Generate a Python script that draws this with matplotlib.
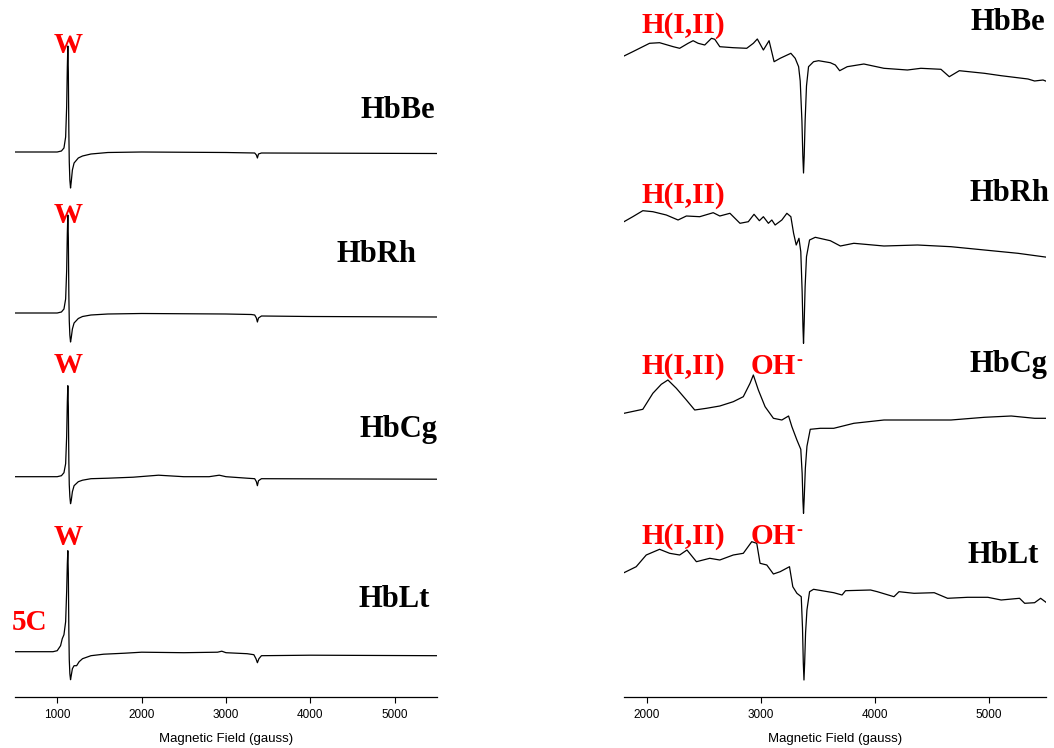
import matplotlib
matplotlib.use("Agg")
import matplotlib.pyplot as plt

# ---------------- data (field in gauss, intensity arbitrary units) ----------------
left_names = ["HbBe", "HbRh", "HbCg", "HbLt"]
right_names = ["HbBe", "HbRh", "HbCg", "HbLt"]

L_be_x = [500, 1000, 1050, 1080, 1100, 1112, 1120, 1126, 1132, 1138, 1143, 1150, 1158, 1166, 1180, 1200, 1250, 1300, 1400, 1600, 2000, 3000, 3340, 3360, 3372, 3385, 3420, 5500]
L_be_y = [0, 0, 1, 4, 15, 45, 85, 106, 80, 20, -10, -28, -36, -30, -18, -11, -6, -4, -2, -0.5, 0, -0.5, -1, -3, -6, -2, -1, -1.5]

L_rh_x = [500, 1000, 1050, 1080, 1100, 1112, 1120, 1126, 1132, 1138, 1143, 1150, 1158, 1166, 1180, 1200, 1250, 1300, 1400, 1600, 2000, 3000, 3300, 3340, 3360, 3372, 3385, 3420, 4000, 5500]
L_rh_y = [0, 0, 1, 4, 14, 42, 80, 98, 75, 18, -8, -22, -29, -25, -16, -10, -5.5, -3.5, -2, -1, -0.5, -1, -1.5, -2, -5, -9, -5, -3, -3.5, -4]

L_cg_x = [500, 1000, 1050, 1080, 1100, 1112, 1120, 1126, 1132, 1138, 1143, 1150, 1158, 1166, 1180, 1200, 1250, 1300, 1400, 1600, 1900, 2200, 2500, 2800, 2920, 3000, 3250, 3340, 3360, 3372, 3385, 3420, 5500]
L_cg_y = [0, 0, 1, 4, 13, 40, 75, 91, 70, 15, -8, -20, -27, -24, -15, -9, -5, -3.5, -2, -1.5, -0.5, 1.5, 0, 0, 1.5, 0, -1.5, -2, -5, -9, -4, -2, -2.5]

L_lt_x = [500, 950, 1000, 1040, 1060, 1080, 1100, 1112, 1120, 1126, 1132, 1138, 1143, 1150, 1158, 1166, 1180, 1200, 1230, 1260, 1300, 1400, 1550, 1800, 2000, 2500, 2900, 2950, 3000, 3250, 3330, 3355, 3372, 3390, 3420, 4000, 5500]
L_lt_y = [0, 0, 1, 6, 13, 17, 30, 60, 88, 101, 78, 20, -8, -22, -28, -24, -17, -14, -14, -10, -7, -4, -2.5, -1.5, -0.5, -1, -0.5, 0.5, -1, -2, -3, -7, -11, -7, -4, -3.5, -4]

R_be_x = [1800, 1877, 2024, 2112, 2232, 2288, 2362, 2406, 2450, 2508, 2567, 2596, 2640, 2758, 2876, 2934, 2969, 3022, 3072, 3116, 3169, 3263, 3301, 3331, 3345, 3360, 3368, 3374, 3380, 3388, 3400, 3418, 3462, 3506, 3609, 3653, 3691, 3757, 3903, 4079, 4285, 4403, 4579, 4652, 4740, 4960, 5107, 5342, 5400, 5474, 5512]
R_be_y = [0, 4.3, 12.7, 13.3, 9.3, 7.7, 12.7, 15.3, 12.7, 11, 17.7, 16.7, 9.3, 8.3, 7.7, 12.7, 17, 6, 15.3, -5.7, -2.3, 2.7, -2.3, -10.7, -25, -65, -100, -117, -100, -65, -30, -10.7, -5.7, -4.7, -6.7, -9, -14.7, -10.7, -8, -12.3, -14, -12.3, -13.3, -20.7, -14.7, -17.3, -19.7, -23, -25, -24, -25.7]

R_rh_x = [1800, 1877, 1965, 2053, 2171, 2274, 2347, 2464, 2582, 2640, 2729, 2817, 2890, 2940, 2987, 3022, 3066, 3096, 3125, 3184, 3228, 3263, 3287, 3310, 3334, 3350, 3362, 3369, 3374, 3380, 3388, 3400, 3427, 3477, 3609, 3697, 3815, 4079, 4373, 4667, 4960, 5254, 5512]
R_rh_y = [0, 5, 11, 10, 6.7, 1.7, 5.7, 5, 9, 5.7, 8.4, -1.6, 0, 7.4, 1, 5, -1.6, 1.7, -3.3, 1.7, 8.4, 5, -11.6, -23.3, -16.6, -30, -70, -105, -121.6, -100, -65, -35, -18.3, -15.6, -19, -24.3, -21.6, -24.3, -23.3, -25, -28.3, -31.6, -35.6]

R_cg_x = [1800, 1965, 2053, 2127, 2185, 2259, 2347, 2420, 2523, 2640, 2758, 2846, 2905, 2934, 2978, 3037, 3110, 3184, 3243, 3272, 3316, 3350, 3362, 3369, 3374, 3380, 3390, 3404, 3433, 3521, 3639, 3815, 4079, 4373, 4667, 4960, 5195, 5400, 5512]
R_cg_y = [0, 4, 20, 29, 33.3, 25, 13.3, 3.3, 5, 7.3, 11.6, 16.6, 30, 38.3, 23.3, 6.6, -5, -6.7, -2.7, -13.4, -26.7, -36, -60, -88, -100, -85, -55, -33, -16, -15, -15, -10, -6.7, -6.7, -6.7, -4, -2.7, -5, -5]

R_lt_x = [1800, 1907, 1995, 2112, 2200, 2288, 2352, 2435, 2552, 2640, 2758, 2846, 2920, 2964, 2993, 3052, 3110, 3169, 3251, 3280, 3316, 3354, 3365, 3372, 3378, 3384, 3392, 3404, 3427, 3462, 3639, 3712, 3742, 3962, 4021, 4167, 4211, 4343, 4520, 4637, 4813, 4990, 5107, 5268, 5313, 5400, 5453, 5512]
R_lt_y = [0, 6, 17.7, 23.4, 19.4, 17.7, 22.7, 11, 14.4, 12.7, 17.7, 19.4, 31, 29.4, 9.4, 7.7, -1.3, 1, 6, -14, -20.6, -24, -55, -90, -107.3, -90, -60, -37.3, -19, -16.6, -20, -22.3, -18, -17.3, -19, -24, -19, -20.6, -20, -25.6, -24.6, -24.6, -27.3, -25.6, -30.6, -30, -25.6, -30.6]

left_traces = [(L_be_x, L_be_y), (L_rh_x, L_rh_y), (L_cg_x, L_cg_y), (L_lt_x, L_lt_y)]
right_traces = [(R_be_x, R_be_y), (R_rh_x, R_rh_y), (R_cg_x, R_cg_y), (R_lt_x, R_lt_y)]

left_ticks = [1000, 2000, 3000, 4000, 5000]
right_ticks = [2000, 3000, 4000, 5000]

# ---------------- layout ----------------
W, H = 1054, 748
fig = plt.figure(figsize=(W / 100, H / 100), dpi=100)
ax_bottom = (H - 697) / H
ax_h = 697 / H
axL = fig.add_axes([15 / W, ax_bottom, 422 / W, ax_h])
axR = fig.add_axes([624 / W, ax_bottom, 422 / W, ax_h])

left_offsets = [545, 384, 220.3, 45.3]
right_offsets = [641, 475.3, 283.7, 124.3]

for (xs, ys), off in zip(left_traces, left_offsets):
    axL.plot(xs, [v + off for v in ys], color="black", lw=0.9)
for (xs, ys), off in zip(right_traces, right_offsets):
    axR.plot(xs, [v + off for v in ys], color="black", lw=0.9)

axL.set_xlim(500, 5500)
axR.set_xlim(1800, 5500)
for ax, ticks in ((axL, left_ticks), (axR, right_ticks)):
    ax.set_ylim(0, 697)
    ax.set_xticks(ticks)
    ax.set_yticks([])
    for s in ("top", "right", "left"):
        ax.spines[s].set_visible(False)
    ax.spines["bottom"].set_linewidth(0.9)
    ax.tick_params(axis="x", direction="out", length=4, width=0.8, pad=5,
                   labelsize=8.5)
    for lab in ax.get_xticklabels():
        lab.set_fontfamily("Liberation Sans")
    ax.set_xlabel("Magnetic Field (gauss)", fontsize=9.5, family="Liberation Sans",
                  labelpad=8)
    ax.patch.set_alpha(0)

serif = "Liberation Serif"
FS = 22

# left panel labels
for yb in (644, 474, 324, 152):
    axL.text(1128, yb, "W", color="red", fontsize=21, fontweight="bold",
             family=serif, ha="center", va="baseline", clip_on=False)
axL.text(678, 67, "5C", color="red", fontsize=21, fontweight="bold",
         family=serif, ha="center", va="baseline", clip_on=False)
for name, x, yb in zip(left_names, [5476, 5263, 5500, 5417], [579, 435, 260, 90]):
    axL.text(x, yb, name, color="black", fontsize=FS, fontweight="bold",
             family=serif, ha="right", va="baseline", clip_on=False)

# right panel labels
for name, x, yb in zip(right_names, [5491, 5527, 5509, 5438], [667, 496, 325, 134]):
    axR.text(x, yb, name, color="black", fontsize=FS, fontweight="bold",
             family=serif, ha="right", va="baseline", clip_on=False)
for yb in (664, 494, 323, 153):
    axR.text(1950, yb, "H(I,II)", color="red", fontsize=21, fontweight="bold",
             family=serif, ha="left", va="baseline", clip_on=False)
for yb in (323, 153):
    t = axR.text(2910, yb, "OH", color="red", fontsize=21, fontweight="bold",
                 family=serif, ha="left", va="baseline", clip_on=False)
    axR.annotate("-", xy=(1.0, 1.0), xycoords=t, xytext=(0.5, -5.5),
                 textcoords="offset points", color="red", fontsize=13,
                 fontweight="bold", family=serif, ha="left", va="center")

fig.savefig("out.png", dpi=100)
